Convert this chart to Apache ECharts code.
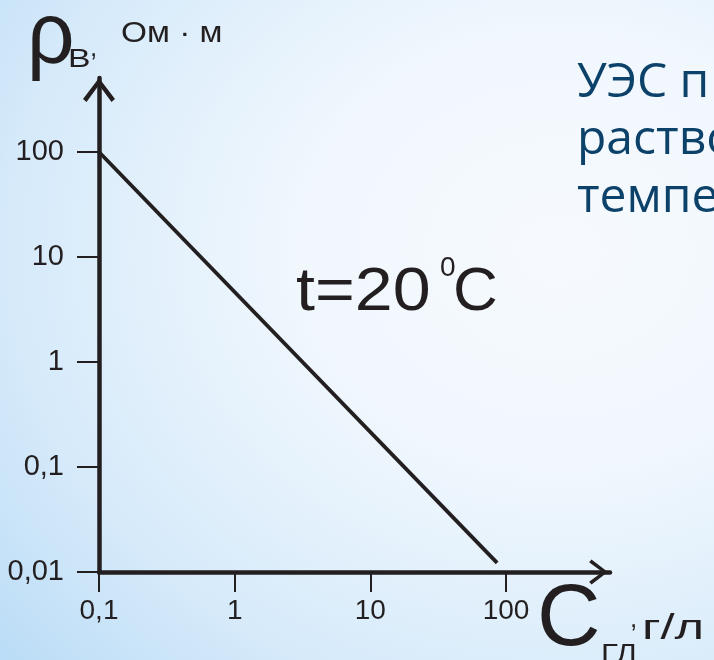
<!DOCTYPE html>
<html>
<head>
<meta charset="utf-8">
<script src="https://cdn.jsdelivr.net/npm/echarts@6/dist/echarts.min.js"></script>
<style>
html,body{margin:0;padding:0;width:714px;height:660px;overflow:hidden;}
body{background: radial-gradient(ellipse 760px 640px at 560px 250px, #f6fafe 0%, #f0f7fd 35%, #d6eafa 72%, #b8dbf6 100%);}
#c{width:714px;height:660px;}
</style>
</head>
<body>
<div id="c"></div>
<script>
// ---- data ----
const xTicks = [0.1, 1, 10, 100];          // концентрация, г/л
const yTicks = [0.01, 0.1, 1, 10, 100];    // УЭС, Ом·м
const concentration = [0.1, 86];
const resistivity = [100, 0.0122];
const tempLabel = 't=20';
const sideText = ['УЭС п', 'раство', 'темпе'];

const INK = '#231f20';
const fmt = v => String(+(+v).toPrecision(6)).replace('.', ',');
const chevron = 'path://M16,0 L32,21 L28.5,24 L16,7 L3.5,24 L0,21 Z';

const chart = echarts.init(document.getElementById('c'), null, {renderer: 'canvas'});

function txt(text, x, baseline, fs, opts) {
  opts = opts || {};
  return {
    type: 'text', x: x, y: baseline - 0.3465 * fs,
    scaleX: opts.sx || 1,
    style: {
      text: text, x: 0, y: 0, fill: opts.color || INK,
      font: fs + 'px ' + (opts.family || '"Liberation Sans", Arial, sans-serif'),
      align: 'left', verticalAlign: 'middle'
    }
  };
}

chart.setOption({
  backgroundColor: 'transparent',
  animation: false,
  grid: {left: 99, top: 78, width: 511, height: 494, containLabel: false},
  xAxis: {
    type: 'log', logBase: 10, min: 0.1, max: 584,
    axisLine: {show: true, onZero: false, lineStyle: {color: INK, width: 4.5},
      symbol: ['none', chevron], symbolSize: [25, 23], symbolOffset: [0, -11.5]},
    axisTick: {show: true, length: 20, lineStyle: {color: INK, width: 2}, customValues: xTicks},
    axisLabel: {customValues: xTicks, formatter: fmt, color: INK, fontSize: 28, margin: 25,
      fontFamily: '"Liberation Sans", Arial, sans-serif'},
    splitLine: {show: false}, minorTick: {show: false}
  },
  yAxis: {
    type: 'log', logBase: 10, min: 0.01, max: 507,
    axisLine: {show: true, onZero: false, lineStyle: {color: INK, width: 4.5},
      symbol: ['none', chevron], symbolSize: [32, 24], symbolOffset: [0, -12]},
    axisTick: {show: true, length: 22, lineStyle: {color: INK, width: 2}, customValues: yTicks},
    axisLabel: {customValues: yTicks, formatter: fmt, color: INK, fontSize: 29, margin: 35,
      fontFamily: '"Liberation Sans", Arial, sans-serif'},
    splitLine: {show: false}, minorTick: {show: false}
  },
  series: [{
    type: 'line',
    data: concentration.map((c, i) => [c, resistivity[i]]),
    symbol: 'none', showSymbol: false, clip: false,
    lineStyle: {color: INK, width: 3.8}
  }],
  graphic: [
    txt('ρ', 27, 69, 88, {sx: 0.95}),
    txt('В', 68, 69, 26, {sx: 1.3}),
    txt(',', 90, 58, 26),
    txt('Ом · м', 121, 44, 29, {sx: 1.15}),
    txt(tempLabel, 296, 314, 62, {sx: 1.1}),
    txt('0', 440, 278, 28),
    txt('C', 453, 314, 62),
    txt('C', 537, 651, 88),
    txt('ГЛ', 601, 664, 26, {sx: 1.2}),
    txt(',', 630, 629, 26),
    txt('г/л', 642, 641, 35, {sx: 1.45}),
    txt(sideText[0], 577, 100, 48, {color: '#0c4269', family: '"Open Sans", sans-serif'}),
    txt(sideText[1], 577, 157, 48, {color: '#0c4269', family: '"Open Sans", sans-serif'}),
    txt(sideText[2], 577, 215, 48, {color: '#0c4269', family: '"Open Sans", sans-serif'})
  ]
});
</script>
</body>
</html>
